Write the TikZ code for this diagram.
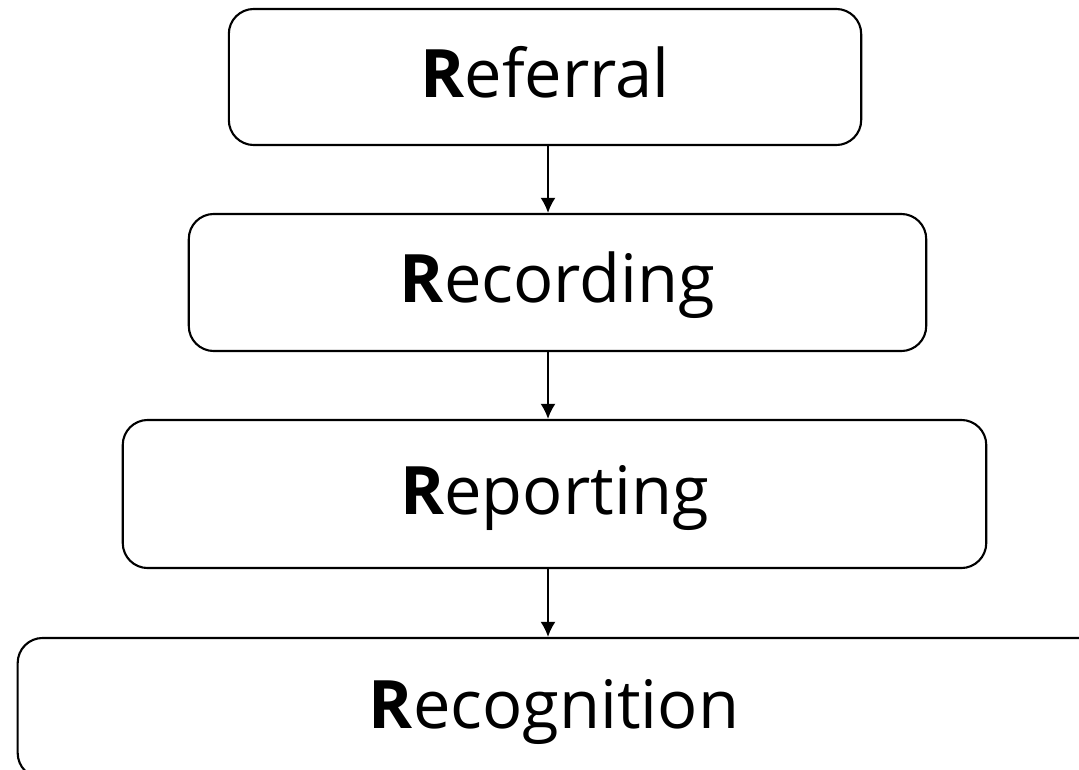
\documentclass[tikz,border=0pt]{standalone}
\usepackage{fontspec}
\setmainfont{Open Sans}
\usetikzlibrary{%
  arrows.meta%
}
\tikzset{>={Latex[length=4.3pt,width=4.3pt]}}
\tikzset{%
  stage/.style={draw, line width=0.6pt, rounded corners=0.25cm,
    inner sep=0pt, text height=0.48cm, text depth=0.08cm,
    font=\fontsize{19}{23}\selectfont},
  flow/.style={->, line width=0.55pt}
}

\begin{document}
\begin{tikzpicture}[x=0.01cm,y=-0.01cm]
        \useasboundingbox (0,0) rectangle (1079,770);
        \clip (0,0) rectangle (1079,770);
        % the four stages
        \node[stage, minimum width=6.32cm, minimum height=1.36cm] (referral) at (545,77) {\textbf{R}eferral};
        \node[stage, minimum width=7.37cm, minimum height=1.37cm] (recording) at (557.5,282.5) {\textbf{R}ecording};
        \node[stage, minimum width=8.63cm, minimum height=1.48cm] (reporting) at (554.5,494) {\textbf{R}eporting};
        \node[stage, minimum width=11.12cm, minimum height=1.40cm] (recognition) at (574,708) {\hspace*{-0.4cm}\textbf{R}ecognition};
        % arrows
        \coordinate (axis) at (548,0);
        \draw[flow] (referral.south -| axis) -- (recording.north -| axis);
        \draw[flow] (recording.south -| axis) -- (reporting.north -| axis);
        \draw[flow] (reporting.south -| axis) -- (recognition.north -| axis);
      \end{tikzpicture}
\end{document}
